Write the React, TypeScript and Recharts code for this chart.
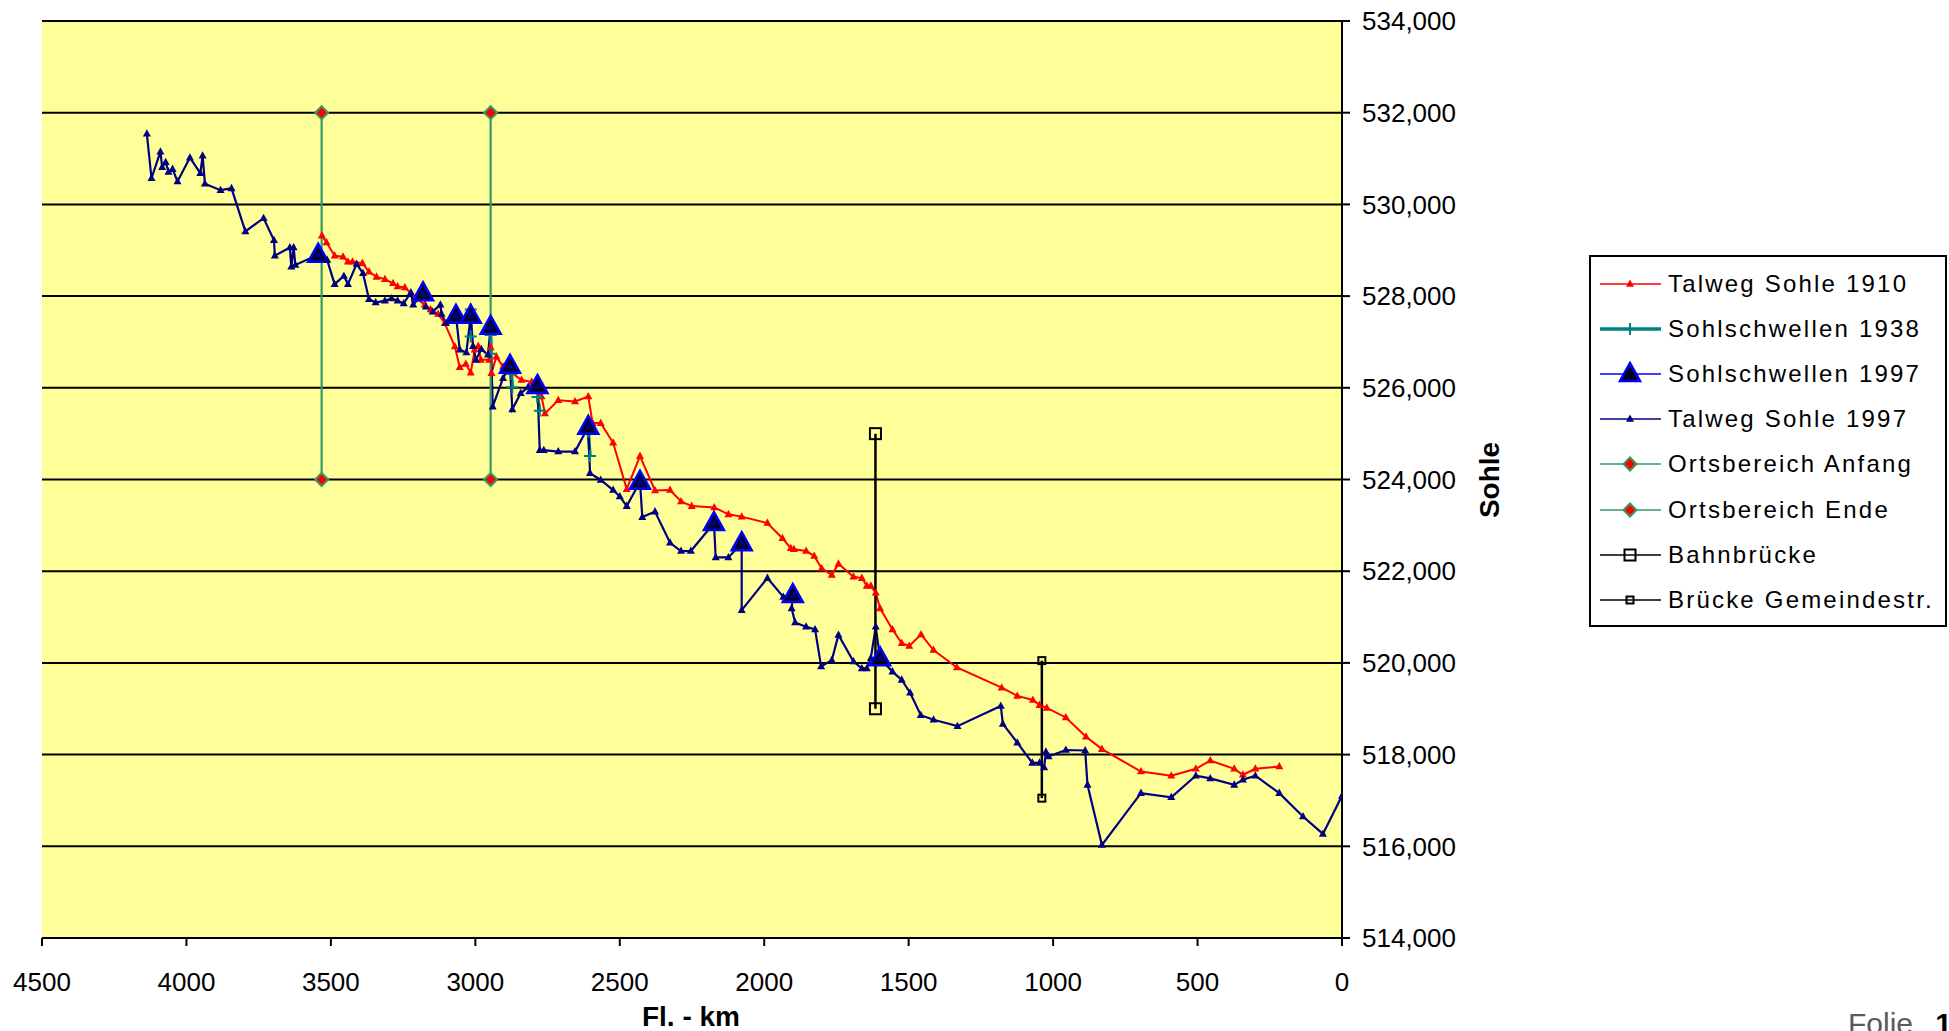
import React from "react";
import { LineChart, Line, XAxis, YAxis, CartesianGrid, Legend } from "recharts";

type Pt = [number, number | null];

// Fl.-km ticks and Sohle ticks (m)
const kmTicks = [0, 500, 1000, 1500, 2000, 2500, 3000, 3500, 4000, 4500];
const sohleTicks = [514, 516, 518, 520, 522, 524, 526, 528, 530, 532, 534];

const talwegSohle1910: Pt[] = [
  [3531, 529.32], [3515, 529.17], [3487, 528.88], [3458, 528.86], [3441, 528.75],
  [3425, 528.75], [3391, 528.72], [3368, 528.53], [3342, 528.42], [3313, 528.37],
  [3285, 528.28], [3269, 528.21], [3244, 528.19], [3204, 527.95], [3175, 527.81],
  [3155, 527.71], [3129, 527.61], [3106, 527.41], [3071, 526.9], [3054, 526.45],
  [3033, 526.52], [3016, 526.33], [3002, 526.83], [2990, 526.91], [2981, 526.61],
  [2952, 526.61], [2947, 526.88], [2944, 526.32], [2927, 526.68], [2904, 526.46],
  [2840, 526.17], [2805, 526.13], [2771, 525.81], [2759, 525.44], [2713, 525.73],
  [2655, 525.7], [2609, 525.81], [2594, 525.23], [2566, 525.23], [2523, 524.8],
  [2476, 523.79], [2430, 524.51], [2378, 523.76], [2326, 523.77], [2288, 523.52],
  [2251, 523.42], [2173, 523.39], [2124, 523.24], [2078, 523.19], [1989, 523.05],
  [1937, 522.72], [1908, 522.5], [1897, 522.48], [1855, 522.44], [1827, 522.33],
  [1801, 522.06], [1766, 521.92], [1743, 522.16], [1691, 521.88], [1662, 521.85],
  [1645, 521.68], [1631, 521.68], [1614, 521.53], [1599, 521.19], [1556, 520.73],
  [1524, 520.43], [1498, 520.37], [1457, 520.62], [1414, 520.28], [1333, 519.9],
  [1178, 519.46], [1124, 519.28], [1070, 519.19], [1047, 519.08], [1022, 519.02],
  [956, 518.81], [886, 518.39], [831, 518.12], [696, 517.63], [591, 517.54],
  [506, 517.69], [456, 517.87], [373, 517.69], [343, 517.56], [300, 517.69],
  [217, 517.74],
];

const sohlschwellen1938: Pt[] = [
  [3016, 527.71], [3016, 527.12], [3000, null],
  [2947, 527.15], [2947, 526.74], [2920, null],
  [2875, 526.3], [2872, 526.01], [2850, null],
  [2785, 525.8], [2777, 525.5], [2700, null],
  [2609, 525.04], [2603, 524.51],
];

const sohlschwellen1997: Pt[] = [
  [3544, 528.9], [3540, null], [3181, 528.06], [3175, null], [3067, 527.57], [3060, null],
  [3016, 527.57], [3010, null], [2947, 527.33], [2940, null], [2880, 526.48], [2875, null],
  [2785, 526.04], [2780, null], [2609, 525.15], [2600, null], [2430, 523.95], [2425, null],
  [2174, 523.05], [2170, null], [2078, 522.61], [2070, null], [1901, 521.48], [1895, null],
  [1599, 520.1],
];

const talwegSohle1997: Pt[] = [
  [4137, 531.54], [4121, 530.57], [4090, 531.15], [4084, 530.81], [4072, 530.92],
  [4062, 530.71], [4048, 530.77], [4031, 530.5], [3988, 531.02], [3952, 530.68],
  [3944, 531.06], [3936, 530.45], [3882, 530.31], [3844, 530.35], [3796, 529.41],
  [3733, 529.7], [3697, 529.22], [3694, 528.88], [3642, 529.06], [3637, 528.64],
  [3629, 529.06], [3623, 528.68], [3544, 528.9], [3513, 528.79], [3487, 528.26],
  [3455, 528.44], [3441, 528.26], [3411, 528.7], [3389, 528.5], [3368, 527.93],
  [3345, 527.86], [3313, 527.9], [3290, 527.95], [3269, 527.9], [3248, 527.84],
  [3223, 528.08], [3215, 527.81], [3181, 528.06], [3171, 527.77], [3148, 527.66],
  [3121, 527.81], [3117, 527.61], [3102, 527.41], [3067, 527.57], [3054, 526.83],
  [3031, 526.77], [3016, 527.57], [3008, 526.91], [2998, 526.61], [2979, 526.84],
  [2956, 526.72], [2947, 527.33], [2940, 525.59], [2904, 526.21], [2880, 526.48],
  [2872, 525.53], [2843, 525.88], [2817, 526.02], [2785, 526.04], [2777, 524.64],
  [2763, 524.64], [2713, 524.61], [2655, 524.61], [2609, 525.15], [2603, 524.14],
  [2566, 523.99], [2523, 523.77], [2500, 523.63], [2476, 523.42], [2430, 523.95],
  [2422, 523.18], [2378, 523.3], [2326, 522.62], [2288, 522.44], [2254, 522.44],
  [2174, 523.05], [2168, 522.3], [2124, 522.3], [2078, 522.61], [2078, 521.15],
  [1989, 521.85], [1934, 521.44], [1901, 521.48], [1905, 521.19], [1893, 520.88],
  [1855, 520.79], [1824, 520.73], [1803, 519.92], [1766, 520.06], [1743, 520.61],
  [1691, 520.03], [1662, 519.88], [1645, 519.88], [1631, 520.1], [1614, 520.79],
  [1599, 520.1], [1556, 519.81], [1524, 519.63], [1495, 519.35], [1458, 518.86],
  [1414, 518.76], [1331, 518.62], [1181, 519.06], [1174, 518.67], [1124, 518.26],
  [1072, 517.82], [1047, 517.82], [1031, 517.72], [1025, 518.06], [1016, 517.96],
  [956, 518.1], [889, 518.09], [881, 517.34], [831, 516.03], [696, 517.16],
  [591, 517.07], [506, 517.54], [456, 517.48], [373, 517.34], [343, 517.45],
  [300, 517.54], [217, 517.16], [135, 516.65], [66, 516.27], [0, 517.1],
];

const ortsbereichAnfang: Pt[] = [[3532, 532], [3532, 524]];
const ortsbereichEnde: Pt[] = [[2947, 532], [2947, 524]];
const bahnbruecke: Pt[] = [[1615, 525], [1615, 519]];
const brueckeGemeindestr: Pt[] = [[1039, 520.05], [1039, 517.05]];

const toRows = (pts: Pt[]) => pts.map(([km, sohle]) => ({ km, sohle }));

const FONT = "'Liberation Sans', Arial, Helvetica, sans-serif";

type Marker = "smallTri" | "plus" | "bigTri" | "diamond" | "square" | "smallSquare";

function drawMarker(kind: Marker, cx: number, cy: number, color: string, key?: any) {
  switch (kind) {
    case "smallTri":
      return <path key={key} d={`M${cx},${cy - 4.5}L${cx + 4},${cy + 2.8}L${cx - 4},${cy + 2.8}Z`} fill={color} />;
    case "plus":
      return (
        <path key={key} d={`M${cx - 6},${cy}H${cx + 6}M${cx},${cy - 6}V${cy + 6}`} stroke={color} strokeWidth={2} fill="none" />
      );
    case "bigTri":
      return (
        <path
          key={key}
          d={`M${cx},${cy - 11}L${cx + 10},${cy + 7}L${cx - 10},${cy + 7}Z`}
          fill="#000020"
          stroke="#0000FF"
          strokeWidth={2.5}
        />
      );
    case "diamond":
      return (
        <path key={key} d={`M${cx},${cy - 6.5}L${cx + 6.5},${cy}L${cx},${cy + 6.5}L${cx - 6.5},${cy}Z`} fill="#FF0000" stroke="#339966" strokeWidth={2} />
      );
    case "square":
      return <rect key={key} x={cx - 5.5} y={cy - 5.5} width={11} height={11} fill="none" stroke="#000" strokeWidth={2} />;
    default:
      return <rect key={key} x={cx - 3.5} y={cy - 3.5} width={7} height={7} fill="none" stroke="#000" strokeWidth={2} />;
  }
}

const dotFn = (kind: Marker, color: string) => (props: any) => {
  const { cx, cy, index, value } = props;
  if (cx == null || cy == null || value == null || Number.isNaN(cy)) return <g key={`n${index}`} />;
  return drawMarker(kind, cx, cy, color, `d${index}`);
};

const legendItems: { name: string; color: string; width: number; marker: Marker }[] = [
  { name: "Talweg Sohle 1910", color: "#FF0000", width: 1.5, marker: "smallTri" },
  { name: "Sohlschwellen 1938", color: "#008080", width: 3.5, marker: "plus" },
  { name: "Sohlschwellen 1997", color: "#0000FF", width: 1.5, marker: "bigTri" },
  { name: "Talweg Sohle 1997", color: "#000080", width: 1.5, marker: "smallTri" },
  { name: "Ortsbereich Anfang", color: "#339966", width: 1.5, marker: "diamond" },
  { name: "Ortsbereich Ende", color: "#339966", width: 1.5, marker: "diamond" },
  { name: "Bahnbrücke", color: "#000000", width: 1.5, marker: "square" },
  { name: "Brücke Gemeindestr.", color: "#000000", width: 1.5, marker: "smallSquare" },
];

function LegendBox() {
  return (
    <div
      style={{
        border: "2px solid #000",
        background: "#fff",
        width: 358,
        padding: "4px 0 2px 9px",
        boxSizing: "border-box",
        fontFamily: FONT,
      }}
    >
      {legendItems.map((it) => (
        <div key={it.name} style={{ display: "flex", alignItems: "center", height: 45.2 }}>
          <svg width={61} height={30} style={{ flex: "none" }}>
            <line x1={0} x2={61} y1={15} y2={15} stroke={it.color} strokeWidth={it.width} />
            {drawMarker(it.marker, 30, 15, it.color)}
          </svg>
          <span style={{ marginLeft: 7, fontSize: 24, letterSpacing: 2.2, color: "#000", whiteSpace: "nowrap" }}>
            {it.name}
          </span>
        </div>
      ))}
    </div>
  );
}

const fmtSohle = (v: number) => v.toFixed(3).replace(".", ",");

export default function App() {
  return (
    <div
      style={{
        position: "absolute",
        left: 0,
        top: 0,
        width: 1949,
        height: 1031,
        background: "#fff",
        overflow: "hidden",
        fontFamily: FONT,
      }}
    >
      <LineChart width={1949} height={1031} margin={{ top: 21, left: 42, right: 487, bottom: 33 }}>
        <CartesianGrid vertical={false} stroke="#000" strokeWidth={2} fill="#FFFF99" fillOpacity={1} />
        <XAxis
          type="number"
          dataKey="km"
          domain={[0, 4500]}
          ticks={kmTicks}
          interval={0}
          reversed
          allowDataOverflow
          height={60}
          axisLine={{ stroke: "#000", strokeWidth: 2 }}
          tickLine={{ stroke: "#000", strokeWidth: 2 }}
          tickSize={8}
          tickMargin={27}
          tick={{ fontSize: 26, fill: "#000", fontFamily: FONT }}
        />
        <YAxis
          type="number"
          orientation="right"
          domain={[514, 534]}
          ticks={sohleTicks}
          interval={0}
          allowDataOverflow
          width={120}
          axisLine={{ stroke: "#000", strokeWidth: 2 }}
          tickLine={{ stroke: "#000", strokeWidth: 2 }}
          tickSize={8}
          tickMargin={12}
          tickFormatter={fmtSohle}
          tick={{ fontSize: 26, fill: "#000", fontFamily: FONT }}
        />
        <Legend
          layout="vertical"
          align="center"
          verticalAlign="middle"
          wrapperStyle={{ left: 1589, top: 255, width: 358 }}
          content={() => <LegendBox />}
        />
        <Line
          data={toRows(talwegSohle1910)}
          dataKey="sohle"
          name="Talweg Sohle 1910"
          stroke="#FF0000"
          strokeWidth={2}
          dot={dotFn("smallTri", "#FF0000")}
          activeDot={false}
          connectNulls={false}
          isAnimationActive={false}
        />
        <Line
          data={toRows(sohlschwellen1938)}
          dataKey="sohle"
          name="Sohlschwellen 1938"
          stroke="#008080"
          strokeWidth={3.5}
          dot={dotFn("plus", "#008080")}
          activeDot={false}
          connectNulls={false}
          isAnimationActive={false}
        />
        <Line
          data={toRows(sohlschwellen1997)}
          dataKey="sohle"
          name="Sohlschwellen 1997"
          stroke="#0000FF"
          strokeWidth={1.5}
          dot={dotFn("bigTri", "#0000FF")}
          activeDot={false}
          connectNulls={false}
          isAnimationActive={false}
        />
        <Line
          data={toRows(talwegSohle1997)}
          dataKey="sohle"
          name="Talweg Sohle 1997"
          stroke="#000080"
          strokeWidth={2.2}
          dot={dotFn("smallTri", "#000080")}
          activeDot={false}
          connectNulls={false}
          isAnimationActive={false}
        />
        <Line
          data={toRows(ortsbereichAnfang)}
          dataKey="sohle"
          name="Ortsbereich Anfang"
          stroke="#339966"
          strokeWidth={2.2}
          dot={dotFn("diamond", "#339966")}
          activeDot={false}
          isAnimationActive={false}
        />
        <Line
          data={toRows(ortsbereichEnde)}
          dataKey="sohle"
          name="Ortsbereich Ende"
          stroke="#339966"
          strokeWidth={2.2}
          dot={dotFn("diamond", "#339966")}
          activeDot={false}
          isAnimationActive={false}
        />
        <Line
          data={toRows(bahnbruecke)}
          dataKey="sohle"
          name="Bahnbrücke"
          stroke="#000"
          strokeWidth={2.5}
          dot={dotFn("square", "#000")}
          activeDot={false}
          isAnimationActive={false}
        />
        <Line
          data={toRows(brueckeGemeindestr)}
          dataKey="sohle"
          name="Brücke Gemeindestr."
          stroke="#000"
          strokeWidth={2.5}
          dot={dotFn("smallSquare", "#000")}
          activeDot={false}
          isAnimationActive={false}
        />
      </LineChart>
      <svg
        width={1949}
        height={1031}
        style={{ position: "absolute", left: 0, top: 0, pointerEvents: "none" }}
        fontFamily={FONT}
      >
        <text x={691} y={1026} textAnchor="middle" fontSize={28} fontWeight="bold" fill="#000">
          Fl. - km
        </text>
        <text transform="translate(1499,480) rotate(-90)" textAnchor="middle" fontSize={28} fontWeight="bold" fill="#000">
          Sohle
        </text>
        <text x={1848} y={1034} fontSize={30} fill="#5a5a5a">
          Folie <tspan fill="#000" fontWeight="bold" dx={14}>1</tspan>
        </text>
      </svg>
    </div>
  );
}
